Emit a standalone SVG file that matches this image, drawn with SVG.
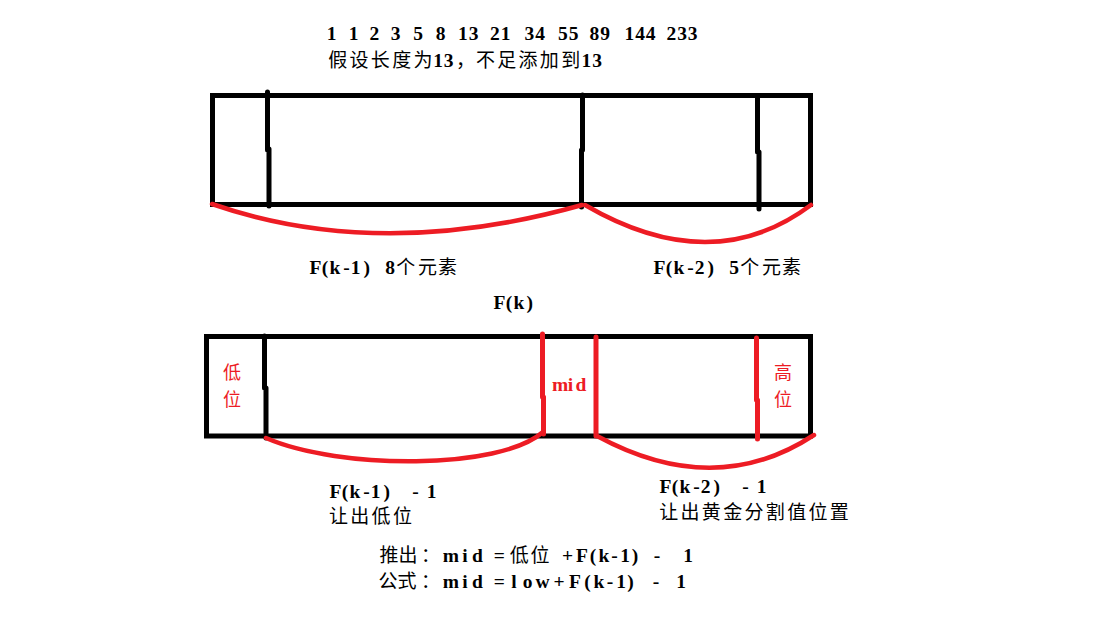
<svg xmlns="http://www.w3.org/2000/svg" width="1115" height="618" viewBox="0 0 1115 618">
<style>
.bg{fill:#fff}
.box{fill:none;stroke:#000;stroke-width:5}
.blk{fill:none;stroke:#000;stroke-width:5;stroke-linecap:round}
.redl{fill:none;stroke:#ED1C24;stroke-width:5;stroke-linecap:round}
.brace{fill:none;stroke:#ED1C24;stroke-width:4.5;stroke-linecap:round}
text{text-anchor:middle;fill:#000}
.lat{font-family:"Liberation Serif",serif;font-weight:bold;font-size:19.5px}
.cjk{font-family:"Noto Sans CJK SC","Noto Sans CJK JP",sans-serif;font-size:19px}
.rc{font-family:"Noto Sans CJK SC","Noto Sans CJK JP",sans-serif;font-size:18px;fill:#ED1C24}
.red{fill:#ED1C24}
</style>
<rect class="bg" x="0" y="0" width="1115" height="618"/>

<g id="header">
<text><tspan class="lat" y="40" x="331.5 353.5 374.3 395.5 418 440.5 462.8 473.5 494.8 505.5 529.3 540 562.8 573.5 594.3 605 629.3 640 650.7 671.3 682 692.7">1123581321345589144233</tspan><tspan class="cjk" y="66.8" x="337.7 359 380.3 401.7 423">假设长度为</tspan><tspan class="lat" x="438 448.7">13</tspan><tspan class="cjk" x="465.5">，</tspan><tspan class="cjk" x="485.5 506.7 528 549.3 570.7">不足添加到</tspan><tspan class="lat" x="586.3 597">13</tspan></text>
</g>

<g id="top-box">
<rect class="box" x="212.5" y="95.5" width="598" height="109"/>
<path class="blk" d="M267.5 92 V150 M269 149 V206"/>
<path class="blk" d="M582.5 95 V150 M581.5 150 V207"/>
<path class="blk" d="M757.5 97 V152 M759 152 V209"/>
</g>

<g id="top-labels">
<text y="274"><tspan class="lat" x="315.5 325 335 346.5 355.5 366.7">F(k-1)</tspan><tspan class="lat" x="390">8</tspan><tspan class="cjk" x="405.8 427.5 447.5">个元素</tspan></text>
<text y="273.5"><tspan class="lat" x="659.5 669 679 690.5 699.5 710.7">F(k-2)</tspan><tspan class="lat" x="734">5</tspan><tspan class="cjk" x="749.8 771.5 791.5">个元素</tspan></text>
<text y="309"><tspan class="lat" x="499.5 509 519 529.7">F(k)</tspan></text>
</g>

<g id="bottom-box">
<rect class="box" x="206.5" y="336.5" width="604" height="99.5"/>
<path class="blk" d="M264.5 336 V388 M266 388 V438"/>
<path class="redl" d="M542.5 334 V397 M543.5 397 V434"/>
<path class="redl" d="M596 337 V436"/>
<path class="redl" d="M756.5 338 V400 M757.5 400 V439"/>
<text y="391"><tspan class="lat red" x="560 570.5 581">mid</tspan></text>
<text class="rc"><tspan x="232" y="379">低</tspan><tspan x="232" y="406">位</tspan></text>
<text class="rc"><tspan x="783" y="379">高</tspan><tspan x="783" y="406">位</tspan></text>
</g>

<g id="connectors">
<path class="brace" d="M212 204 Q380 262 582 205"/>
<path class="brace" d="M585 205 Q712 279 811 205"/>
<path class="brace" d="M266 438 C340 470 500 470 543 432"/>
<path class="brace" d="M597 436 Q715 500 814 435"/>
</g>

<g id="bottom-labels">
<text><tspan class="lat" y="497.5" x="335.5 345 355 366.5 375.5 386.7 415.5 431.7">F(k-1)-1</tspan><tspan class="cjk" y="523" x="338.5 359.8 381.1 402.4">让出低位</tspan></text>
<text><tspan class="lat" y="493.3" x="665.5 675 685 696.5 705.5 716.7 745.5 761.7">F(k-2)-1</tspan><tspan class="cjk" y="519" x="668.7 690 711.3 732.7 754 775.3 796.7 818 839.3">让出黄金分割值位置</tspan></text>
<text><tspan class="cjk" y="561.5" x="389 408 430.5">推出：</tspan><tspan class="lat" x="450.8 465 477.5 499.2">mid=</tspan><tspan class="cjk" x="519.2 540">低位</tspan><tspan class="lat" x="567.5 582 593 604 614.5 625 635 657 688">+F(k-1)-1</tspan><tspan class="cjk" y="588" x="388 407 430.5">公式：</tspan><tspan class="lat" x="450.8 465 477.5 499.2 514 527.5 542.5 559 575 587.5 599 610 621 630.5 656 681">mid=low+F(k-1)-1</tspan></text>
</g>
</svg>
